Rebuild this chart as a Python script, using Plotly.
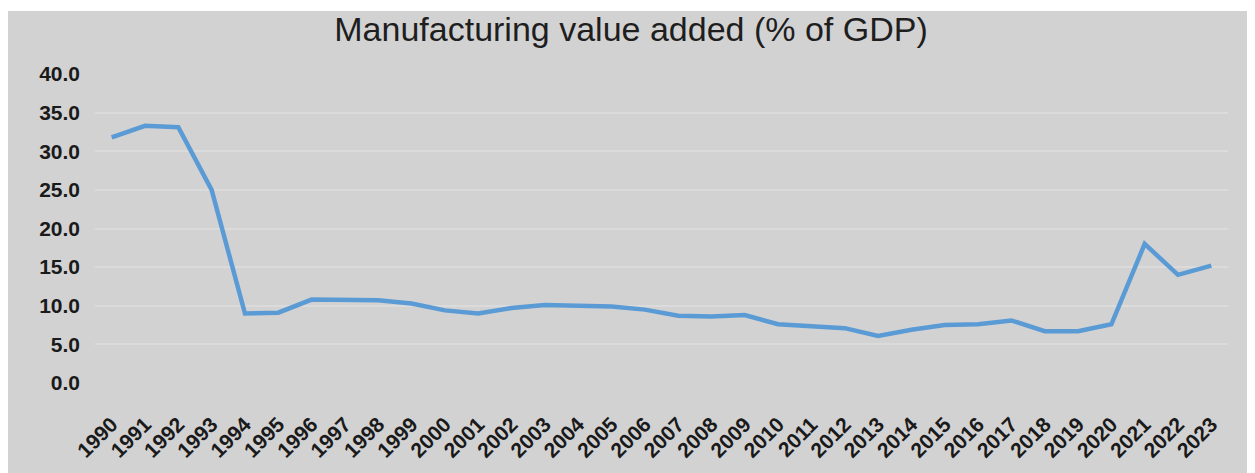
import plotly.graph_objects as go

years = [str(y) for y in range(1990, 2024)]
values = [31.8, 33.3, 33.1, 25.0, 9.0, 9.1, 10.8, 10.8, 10.7, 10.3,
          9.4, 9.0, 9.7, 10.1, 10.0, 9.9, 9.5, 8.7, 8.6, 8.8,
          7.6, 7.4, 7.1, 6.1, 6.9, 7.5, 7.6, 8.1, 6.7, 6.7,
          7.6, 18.0, 14.0, 15.2]
y_ticks = [0, 5, 10, 15, 20, 25, 30, 35, 40]
y_tick_text = [f"{v:.1f}" for v in y_ticks]
title_text = "Manufacturing value added (% of GDP)"

BG = "#d3d2d3"
# page body has an 8px default margin, so the figure is sized to fit the window
W, H = 1247, 465
L, R, T, B = 87, 27, 66, 90
pw, ph = W - L - R, H - T - B

fig = go.Figure()
fig.add_trace(go.Scatter(
    x=years, y=values, mode="lines",
    line=dict(color="#5b9bd5", width=4.5),
    hoverinfo="x+y",
))

fig.add_shape(
    type="rect", xref="paper", yref="paper", layer="below",
    x0=-L / pw - 0.01, x1=(W - L) / pw + 0.01,
    y0=-(B + 5) / ph, y1=(H - B - 3) / ph,
    fillcolor=BG, line=dict(width=0),
)

fig.update_layout(
    width=W, height=H,
    margin=dict(l=L, r=R, t=T, b=B, pad=0, autoexpand=False),
    paper_bgcolor="white",
    plot_bgcolor=BG,
    showlegend=False,
    title=dict(text=title_text, x=(623 - L) / pw, xref="paper", xanchor="center",
               y=1 - 21 / H, yanchor="middle",
               font=dict(family="Liberation Sans, Arial", size=34, color="#1e1e1e")),
    font=dict(family="Liberation Sans, Arial", color="#1a1a1a"),
)
fig.update_xaxes(
    type="category", tickangle=-45, showgrid=False, zeroline=False,
    showline=False, ticks="", ticklabelstandoff=24, automargin=False,
    tickfont=dict(size=21, family="Liberation Sans, Arial", color="#1a1a1a", weight="bold"),
    range=[-0.5, len(years) - 0.5],
)
fig.update_yaxes(
    range=[0, 40], tickvals=y_ticks, ticktext=y_tick_text, automargin=False,
    showgrid=True, gridcolor="#dcdbdc", gridwidth=1.5, zeroline=False,
    showline=False, ticks="", ticklabelstandoff=14,
    tickfont=dict(size=21, family="Liberation Sans, Arial", color="#1a1a1a", weight="bold"),
)

fig.write_html("out.html")
